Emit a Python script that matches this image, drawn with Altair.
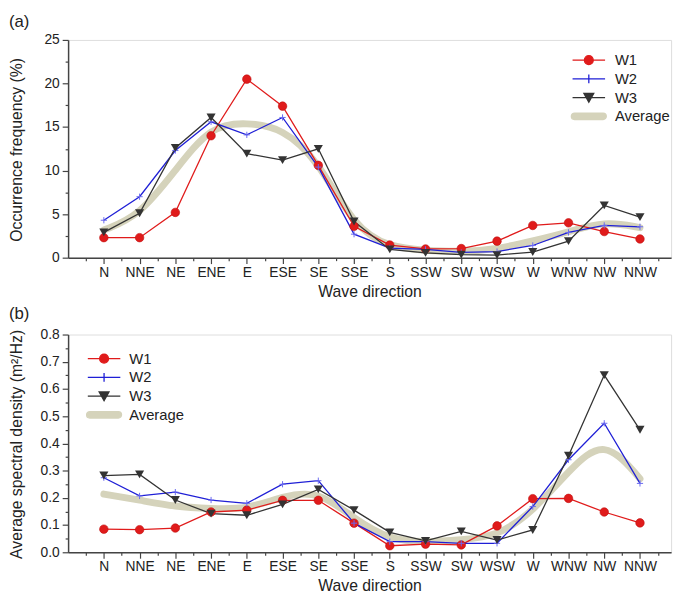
import altair as alt
import pandas as pd

directions = ["N", "NNE", "NE", "ENE", "E", "ESE", "SE", "SSE",
              "S", "SSW", "SW", "WSW", "W", "WNW", "NW", "NNW"]
series_names = ["W1", "W2", "W3", "Average"]

# (a) occurrence frequency (%)
freq_w1 = [2.3, 2.3, 5.2, 14.0, 20.5, 17.4, 10.6, 3.6, 1.45, 1.0, 1.05, 1.9, 3.7, 4.0, 3.0, 2.15]
freq_w2 = [4.3, 7.0, 12.3, 15.6, 14.1, 16.1, 10.4, 2.7, 1.1, 0.95, 0.6, 0.7, 1.4, 2.9, 3.7, 3.55]
freq_w3 = [2.9, 5.1, 12.6, 16.1, 11.95, 11.2, 12.5, 4.15, 0.95, 0.55, 0.35, 0.3, 0.65, 1.9, 6.0, 4.65]
freq_avg = [3.17, 4.8, 10.03, 15.23, 15.52, 14.9, 11.17, 3.48, 1.17, 0.83, 0.67, 0.97, 1.92, 2.93, 4.23, 3.45]

# (b) average spectral density (m2/Hz)
spec_w1 = [0.085, 0.083, 0.089, 0.148, 0.155, 0.191, 0.191, 0.107, 0.024, 0.030, 0.027, 0.097, 0.197, 0.198, 0.148, 0.108]
spec_w2 = [0.274, 0.207, 0.221, 0.192, 0.180, 0.250, 0.263, 0.107, 0.039, 0.039, 0.033, 0.033, 0.168, 0.340, 0.474, 0.253]
spec_w3 = [0.282, 0.286, 0.192, 0.142, 0.136, 0.176, 0.231, 0.155, 0.073, 0.042, 0.077, 0.045, 0.082, 0.355, 0.651, 0.450]
spec_avg = [0.214, 0.192, 0.167, 0.161, 0.157, 0.206, 0.228, 0.123, 0.045, 0.037, 0.046, 0.058, 0.149, 0.298, 0.424, 0.270]

RED = "#e01b1b"
BLUE = "#1f1fd6"
DARK = "#333333"
KHAKI = "#d5d3bb"
AXIS = "#444444"
TXT = "#222222"
FONT = "Liberation Sans"


def build_df(vals):
    rows = []
    for name, arr in zip(series_names, vals):
        for i, v in enumerate(arr):
            rows.append({"idx": i + 1, "dir": directions[i], "value": v, "series": name})
    return pd.DataFrame(rows)


df_a = build_df([freq_w1, freq_w2, freq_w3, freq_avg])
df_b = build_df([spec_w1, spec_w2, spec_w3, spec_avg])

x_vals = [i / 2 for i in range(1, 34)]
dir_js = "[''," + ",".join("'%s'" % d for d in directions) + "]"

# legend glyphs (line + marker), unit = half of sqrt(symbolSize)
L_W1 = "M-3.3,0H3.3M-0.9,0A0.9,0.9 0 1,0 0.9,0A0.9,0.9 0 1,0 -0.9,0Z"
L_W2 = "M-3.3,0H3.3M0,-0.9V0.9"
L_W3 = "M-3.3,0H3.3M-1,-0.85H1L0,0.95Z"
L_AVG = "M-2.9,-0.65H2.9A0.65,0.65 0 0,1 2.9,0.65H-2.9A0.65,0.65 0 0,1 -2.9,-0.65Z"
PLUS = "M-1,0H1M0,-1V1"


def legend(lx, ly, loff):
    return alt.Legend(
        title=None, orient="none", legendX=lx, legendY=ly,
        labelFont=FONT, labelFontSize=15, labelColor=TXT,
        symbolSize=100, labelOffset=loff, rowPadding=3,
        symbolOpacity=1, symbolStrokeWidth=1.3,
    )


def panel(df, label, ytitle, ydomain, yvals, ylabel_expr, minor_test, lx, ly, loff, toff):
    color_scale = alt.Scale(domain=series_names, range=[RED, BLUE, DARK, KHAKI])
    x = alt.X("idx:Q", scale=alt.Scale(domain=[0, 16.87], nice=False, zero=False),
              axis=alt.Axis(values=x_vals, title="Wave direction",
                            labelExpr="datum.value % 1 === 0 ? " + dir_js + "[datum.value] : ''",
                            tickSize={"condition": {"test": "datum.value % 1 !== 0", "value": 3}, "value": 6},
                            grid=False, domainColor=AXIS, tickColor=AXIS, domainWidth=1.5, tickWidth=1.2,
                            labelFont=FONT, labelFontSize=14, labelColor=TXT, labelPadding=2,
                            titleFont=FONT, titleFontSize=16, titleFontWeight="normal", titleColor=TXT,
                            titlePadding=4, labelOverlap=False, labelFlush=False))
    y = alt.Y("value:Q", scale=alt.Scale(domain=ydomain, nice=False),
              axis=alt.Axis(values=yvals, title=ytitle, labelExpr=ylabel_expr,
                            tickSize={"condition": {"test": minor_test, "value": 3}, "value": 6},
                            grid=False, domainColor=AXIS, tickColor=AXIS, domainWidth=1.5, tickWidth=1.2,
                            labelFont=FONT, labelFontSize=14, labelColor=TXT, labelPadding=3,
                            titleFont=FONT, titleFontSize=16, titleFontWeight="normal", titleColor=TXT,
                            titleX=-47, titleY=111, titleAlign="center", titleBaseline="alphabetic",
                            labelOverlap=False, labelFlush=False))
    base = alt.Chart(df)
    avg = base.transform_filter("datum.series === 'Average'").mark_line(
        interpolate="basis", strokeWidth=7, strokeCap="round").encode(
        x=x, y=y, color=alt.Color("series:N", scale=color_scale, legend=None))
    lines = base.transform_filter("datum.series !== 'Average'").mark_line(strokeWidth=1.3).encode(
        x=x, y=y, color=alt.Color("series:N", scale=color_scale, legend=None),
        detail="series:N")
    p1 = base.transform_filter("datum.series === 'W1'").mark_point(
        shape="circle", filled=True, size=75, color=RED, opacity=1, stroke="#c01010", strokeWidth=0.6).encode(x=x, y=y)
    p2 = base.transform_filter("datum.series === 'W2'").mark_point(
        shape=PLUS, filled=False, size=40, color="#6a6af0", opacity=1, strokeWidth=1).encode(x=x, y=y)
    p3 = base.transform_filter("datum.series === 'W3'").mark_point(
        shape="triangle-down", filled=True, size=85, color=DARK, opacity=1).encode(x=x, y=y)
    lg = legend(lx, ly, loff)
    key = base.transform_filter("false").mark_point(opacity=1).encode(
        x=x, y=y,
        shape=alt.Shape("series:N", scale=alt.Scale(domain=series_names, range=[L_W1, L_W2, L_W3, L_AVG]),
                        legend=lg),
        stroke=alt.Stroke("series:N", scale=alt.Scale(domain=series_names, range=[RED, BLUE, DARK, KHAKI]),
                          legend=lg),
        fill=alt.Fill("series:N", scale=alt.Scale(domain=series_names, range=[RED, "transparent", DARK, KHAKI]),
                      legend=lg),
    )
    return alt.layer(avg, lines, p1, p2, p3, key).properties(
        width=612, height=221,
        title=alt.TitleParams(label, anchor="start", frame="bounds", font=FONT, fontSize=17,
                              fontWeight="normal", color=TXT, offset=toff))


pa = panel(df_a, "(a)", "Occurrence frequency (%)", [0, 25], [i * 2.5 for i in range(11)],
           "datum.value % 5 === 0 ? format(datum.value, 'd') : ''",
           "datum.value % 5 !== 0", 521, 13, 19, 2)
pb = panel(df_b, "(b)", "Average spectral density (m²/Hz)", [0, 0.8], [i * 0.05 for i in range(17)],
           "round(datum.value * 100) % 10 === 0 ? format(datum.value, '.1f') : ''",
           "round(datum.value * 100) % 10 !== 0", 29, 17, 18, 5)

chart = alt.vconcat(pa, pb, spacing=4).properties(
    padding={"left": 0, "top": 0, "right": 5, "bottom": 0}
).resolve_scale(shape="independent", stroke="independent", fill="independent").configure_view(
    stroke=AXIS, strokeWidth=1.5).configure(background="white")

chart.save("out.html", embed_options={"renderer": "svg", "actions": False})
